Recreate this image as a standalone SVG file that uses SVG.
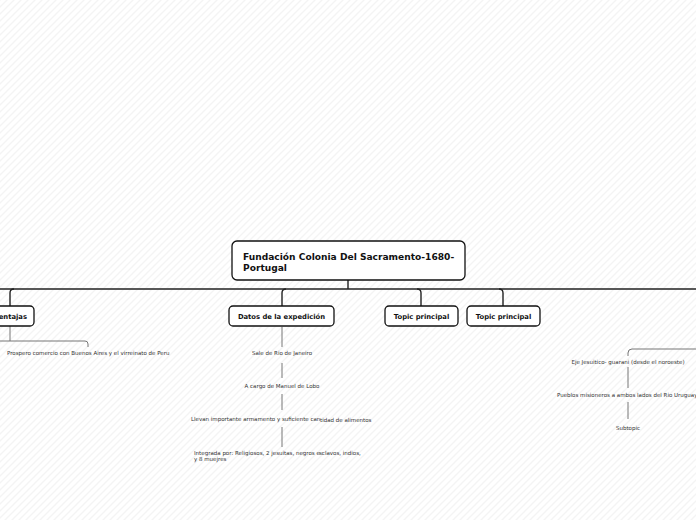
<svg xmlns="http://www.w3.org/2000/svg" width="696" height="520" viewBox="0 0 696 520">
<defs>
<pattern id="bg" width="7" height="7" patternUnits="userSpaceOnUse">
<rect width="7" height="7" fill="#ffffff"/>
<path d="M-1,8 L8,-1 M-1,1 L1,-1 M6,8 L8,6" stroke="#f4f4f4" stroke-width="1.3"/>
</pattern>
<style>
.box{fill:#fff;stroke:#111;stroke-width:1.3}
.main{fill:none;stroke:#222;stroke-width:1.4}
.sub{fill:none;stroke:#777;stroke-width:1}
.t{font-family:"DejaVu Sans",Verdana,sans-serif;font-weight:bold;fill:#111}
.s{font-family:"DejaVu Sans",Verdana,sans-serif;font-size:5.5px;fill:#333}
</style>
</defs>
<rect width="696" height="520" fill="url(#bg)"/>
<g id="connectors">
<path class="main" d="M348,280 V289 M0,289 H696"/>
<path class="main" d="M10,306 V293 Q10,289 14,289 M282,306 V293 Q282,289 286,289 M421,306 V293 Q421,289 417,289 M503,306 V293 Q503,289 499,289"/>
<path class="sub" d="M10,326 V341 M0,341 H85 Q88,341 88,344 V347"/>
<path class="sub" d="M282,327 V347 M282,363 V378 M282,394 V410 M282,427 V447"/>
<path class="sub" d="M696,349 H632 Q628,349 628,353 V356 M628,367 V388 M628,402 V419"/>
</g>
<g id="root">
<rect class="box" x="232" y="241" width="233" height="39" rx="5"/>
<text class="t" font-size="9.1" x="243" y="260">Fundación Colonia Del Sacramento-1680-</text>
<text class="t" font-size="9.1" x="243" y="271">Portugal</text>
</g>
<g id="ventajas">
<rect class="box" x="-40" y="306" width="74" height="20" rx="4"/>
<text class="t" font-size="6.8" x="27" y="319" text-anchor="end">Ventajas</text>
</g>
<g id="prospero">
<text class="s" x="7" y="355">Prospero comercio con Buenos Aires y el virreinato de Peru</text>
</g>
<g id="datos">
<rect class="box" x="229" y="306" width="105" height="20" rx="4"/>
<text class="t" font-size="6.8" x="281.5" y="319" text-anchor="middle">Datos de la expedición</text>
</g>
<g id="sale"><text class="s" x="282" y="355" text-anchor="middle">Sale de Rio de Janeiro</text></g>
<g id="acargo"><text class="s" x="282" y="388" text-anchor="middle">A cargo de Manuel de Lobo</text></g>
<g id="llevan"><text class="s" x="191" y="421">Llevan importante armamento y suficiente can</text><text class="s" x="320" y="422">tidad de alimentos</text></g>
<g id="integrada"><text class="s" x="194" y="455">Integrada por: Religiosos, 2 jesuitas, negros e</text><text class="s" x="319" y="455">sclavos, indios,</text><text class="s" x="194" y="461">y 8 muejres</text></g>
<g id="topic1">
<rect class="box" x="385" y="306" width="73" height="20" rx="4"/>
<text class="t" font-size="6.8" x="421.5" y="319" text-anchor="middle">Topic principal</text>
</g>
<g id="topic2">
<rect class="box" x="467" y="306" width="73" height="20" rx="4"/>
<text class="t" font-size="6.8" x="503.5" y="319" text-anchor="middle">Topic principal</text>
</g>
<g id="eje"><text class="s" x="628" y="364" text-anchor="middle">Eje Jesuitico- guarani (desde el noroeste)</text></g>
<g id="pueblos"><text class="s" x="557" y="397">Pueblos misioneros a ambos lados del Rio Uruguay</text></g>
<g id="subtopic"><text class="s" x="628" y="430" text-anchor="middle">Subtopic</text></g>
</svg>
